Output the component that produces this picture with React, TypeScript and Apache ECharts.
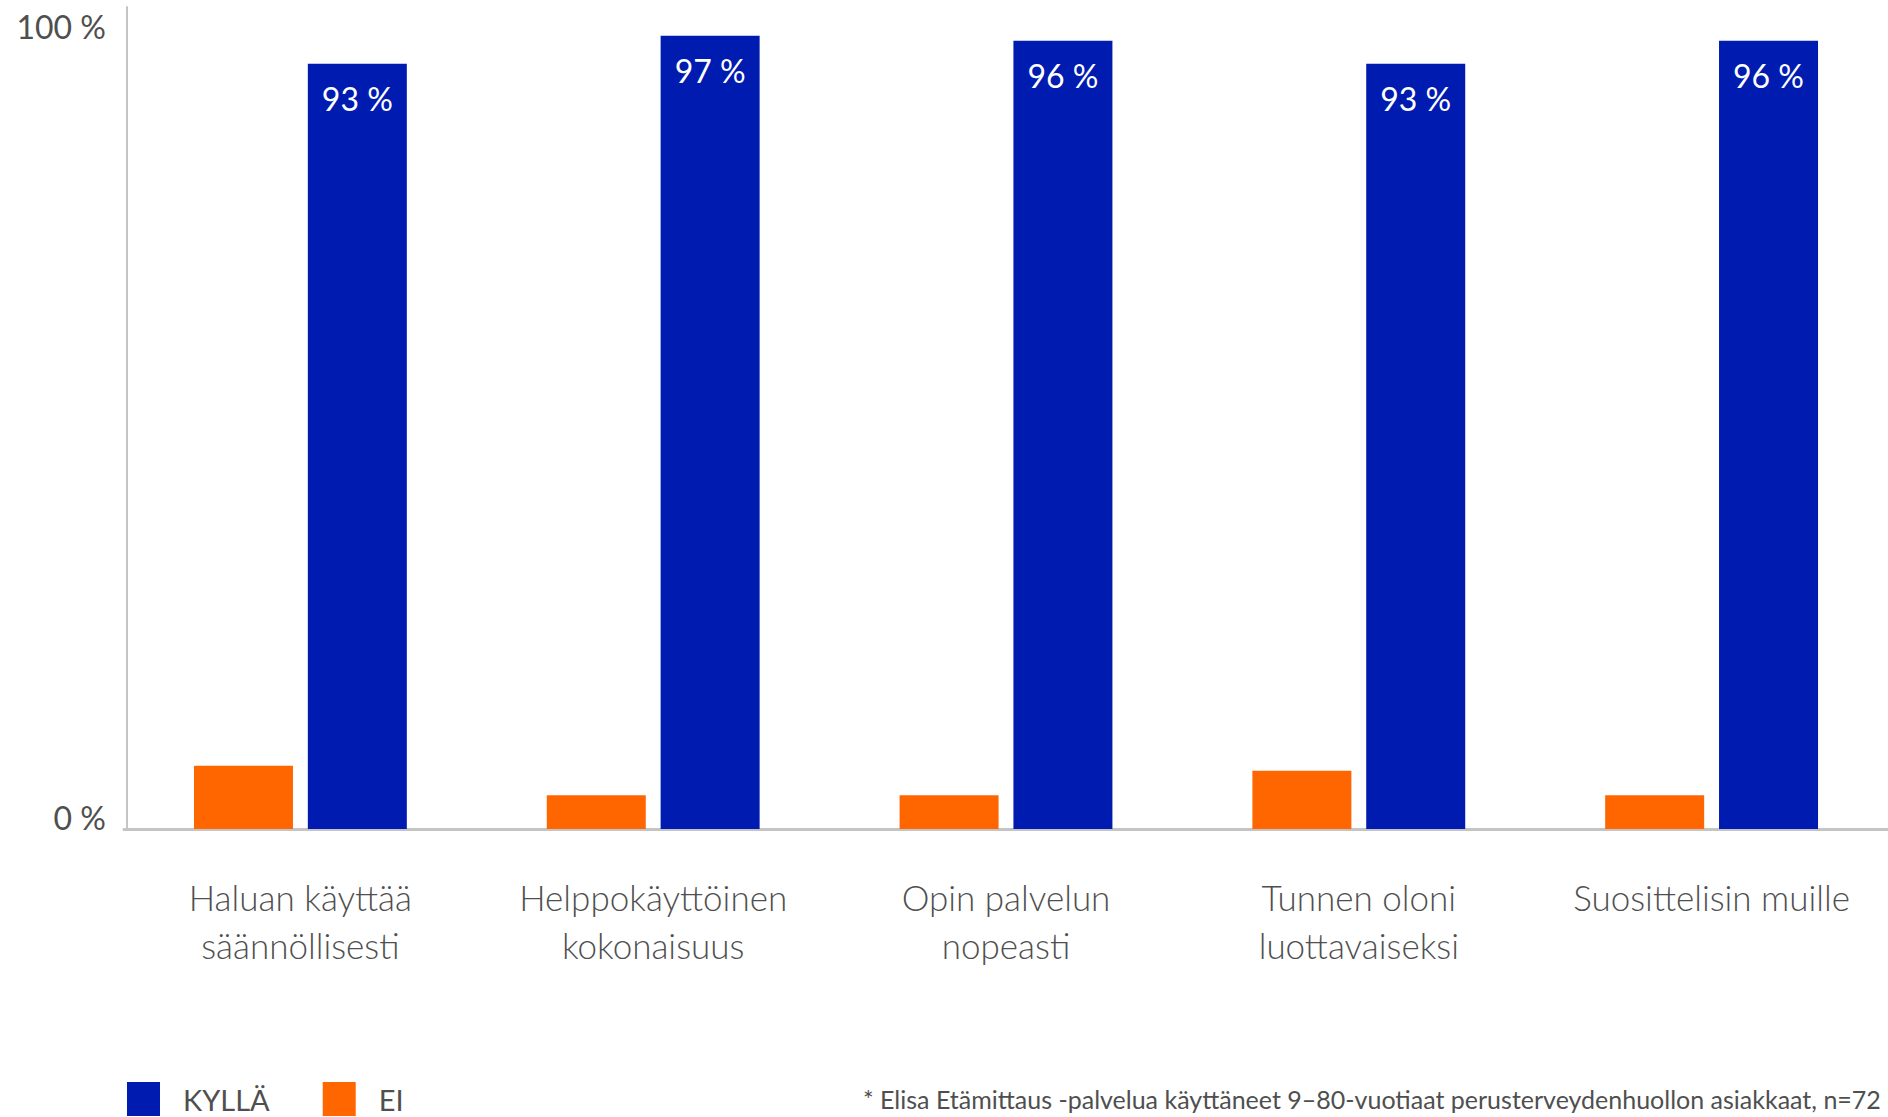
import React, { useEffect, useRef } from "react";
import * as echarts from "echarts";

const categories = [
  "Haluan käyttää\nsäännöllisesti",
  "Helppokäyttöinen\nkokonaisuus",
  "Opin palvelun\nnopeasti",
  "Tunnen oloni\nluottavaiseksi",
  "Suosittelisin muille",
];
const seriesNames = ["KYLLÄ", "EI"];
const yesValues = [93.1, 96.5, 95.9, 93.1, 95.9];
const noValues = [7.7, 4.1, 4.1, 7.1, 4.1];
const yTicks = [0, 100];
const footnote =
  "* Elisa Etämittaus -palvelua käyttäneet 9–80-vuotiaat perusterveydenhuollon asiakkaat, n=72";

const BLUE = "#001BB0";
const ORANGE = "#FF6600";
const GREY_TEXT = "#4f4f4f";
const AXIS = "#C4C4C4";
const FONT = "Lato, 'Noto Sans', sans-serif";

export default function App() {
  const ref = useRef<HTMLDivElement>(null);

  useEffect(() => {
    if (!ref.current) return;
    const chart = echarts.init(ref.current, null, { renderer: "svg" });
    chart.setOption({
      animation: false,
      backgroundColor: "#ffffff",
      textStyle: { fontFamily: FONT },
      grid: {
        left: 124,
        right: 0,
        top: 7,
        bottom: 288,
        outerBoundsMode: "none",
        containLabel: false,
      },
      legend: {
        data: [seriesNames[0], seriesNames[1]],
        left: 127,
        top: 1082,
        padding: 0,
        itemWidth: 33,
        itemHeight: 34,
        itemGap: 53,
        icon: "rect",
        textStyle: {
          fontFamily: FONT,
          fontSize: 29,
          color: GREY_TEXT,
          padding: [0, 0, 0, 18],
        },
      },
      xAxis: {
        type: "category",
        data: categories,
        axisTick: { show: false },
        axisLine: { show: true, lineStyle: { color: AXIS, width: 3 } },
        axisLabel: {
          interval: 0,
          margin: 44,
          fontFamily: FONT,
          fontSize: 35,
          fontWeight: 300,
          lineHeight: 48,
          color: GREY_TEXT,
        },
      },
      yAxis: {
        type: "value",
        min: yTicks[0],
        max: yTicks[1],
        interval: 100,
        offset: -3,
        splitLine: { show: false },
        axisTick: { show: false },
        axisLine: { show: true, lineStyle: { color: AXIS, width: 2 } },
        axisLabel: {
          formatter: "{value} %",
          fontFamily: FONT,
          fontSize: 32,
          color: GREY_TEXT,
          margin: 21,
          verticalAlignMaxLabel: "top",
          verticalAlignMinLabel: "bottom",
          padding: [3, 0, -4, 0],
        },
      },
      series: [
        {
          name: seriesNames[1],
          type: "bar",
          data: noValues,
          barWidth: 99,
          barGap: "15%",
          itemStyle: { color: ORANGE },
        },
        {
          name: seriesNames[0],
          type: "bar",
          data: yesValues,
          barWidth: 99,
          barGap: "15%",
          itemStyle: { color: BLUE },
          label: {
            show: true,
            position: "insideTop",
            distance: 19,
            formatter: (p: any) => `${Math.round(p.value)} %`,
            color: "#ffffff",
            fontFamily: FONT,
            fontSize: 32,
          },
        },
      ],
      graphic: [
        {
          type: "text",
          left: 863,
          top: 1086,
          style: {
            text: footnote,
            fontFamily: FONT,
            fontSize: 25,
            fill: GREY_TEXT,
          },
        },
      ],
    });
    return () => chart.dispose();
  }, []);

  return (
    <div
      ref={ref}
      style={{ position: "fixed", left: 0, top: 0, width: 1888, height: 1117 }}
    />
  );
}
